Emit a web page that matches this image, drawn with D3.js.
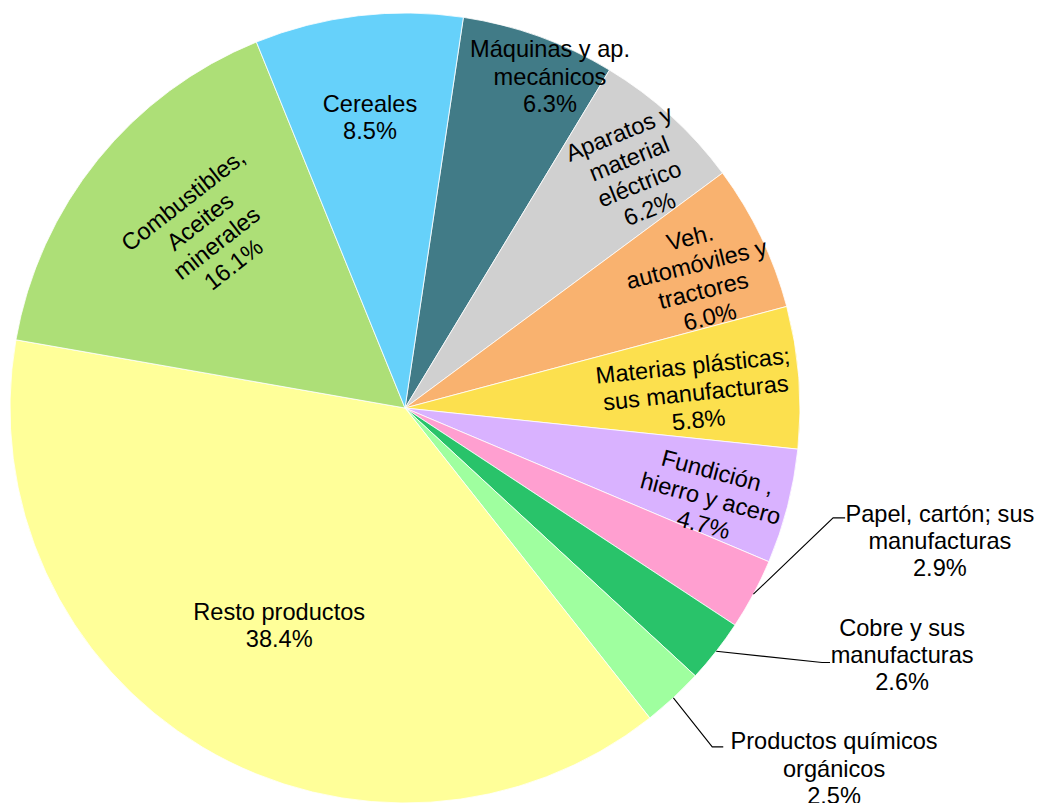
<!DOCTYPE html>
<html><head><meta charset="utf-8">
<script src="https://cdn.jsdelivr.net/npm/d3@7"></script>
<style>body{margin:0;background:#fff}</style></head>
<body>
<svg id="chart" width="1046" height="803"></svg>
<script>
// ---- data ----
const categories = [
  "Máquinas y ap. mecánicos",
  "Aparatos y material eléctrico",
  "Veh. automóviles y tractores",
  "Materias plásticas; sus manufacturas",
  "Fundición , hierro y acero",
  "Papel, cartón; sus manufacturas",
  "Cobre y sus manufacturas",
  "Productos químicos orgánicos",
  "Resto productos",
  "Combustibles, Aceites minerales",
  "Cereales"
];
const values = [6.3, 6.2, 6.0, 5.8, 4.7, 2.9, 2.6, 2.5, 38.4, 16.1, 8.5];
const labelLines = [
  ["Máquinas y ap.", "mecánicos"],
  ["Aparatos y", "material", "eléctrico"],
  ["Veh.", "automóviles y", "tractores"],
  ["Materias plásticas;", "sus manufacturas"],
  ["Fundición ,", "hierro y acero"],
  ["Papel, cartón; sus", "manufacturas"],
  ["Cobre y sus", "manufacturas"],
  ["Productos químicos", "orgánicos"],
  ["Resto productos"],
  ["Combustibles,", "Aceites", "minerales"],
  ["Cereales"]
];

// ---- style ----
const colors = ["#417B87", "#D0D0D0", "#F9B26F", "#FCE04E", "#D9B2FF", "#FF9FD0",
                "#29C36A", "#9FFF9F", "#FFFF99", "#ADDF77", "#66D1FA"];
// label placement: [angle (deg from top, clockwise), radius fraction, rotation deg]
const labelPlace = [
  [23.6, 0.917, 0], [44, 0.835, -22], [66, 0.817, -14], [86.9, 0.737, -6],
  [106.4, 0.807, 15], [103.9, 1.395, 0], [116.4, 1.405, 0], [130, 1.418, 0],
  [210.1, 0.635, 0], [-48.2, 0.669, -38], [-6.85, 0.743, 0]
];
// leader lines for outside labels: index -> [elbow angle, elbow radius frac, tail px]
const leaders = {5: [104.4, 1.119, 12], 6: [121.4, 1.237, 8], 7: [137.8, 1.158, 11]};

const W = 1046, H = 803, cx = 405, cy = 408, R = 395;
const fs = 23.6, lh = 27.2;
const svg = d3.select("#chart");
const g = svg.append("g").attr("transform", `translate(${cx},${cy})`);

const start = 8.5 * Math.PI / 180;
const pie = d3.pie().sort(null).value(d => d).startAngle(start).endAngle(start + 2 * Math.PI);
const arcs = pie(values);
const arc = d3.arc().innerRadius(0).outerRadius(R);

g.selectAll("path.slice").data(arcs).join("path")
  .attr("class", "slice")
  .attr("d", arc)
  .attr("fill", (d, i) => colors[i])
  .attr("stroke", "#ffffff")
  .attr("stroke-width", 0.8)
  .attr("stroke-linejoin", "round");

const polar = (deg, r) => {
  const a = deg * Math.PI / 180;
  return [r * Math.sin(a), -r * Math.cos(a)];
};

// leader lines
Object.keys(leaders).forEach(k => {
  const i = +k;
  const d = arcs[i];
  const mid = (d.startAngle + d.endAngle) / 2 * 180 / Math.PI;
  const p0 = polar(mid, R);
  const [ea, er, tail] = leaders[i];
  const p1 = polar(ea, er * R);
  const p2 = [p1[0] + tail, p1[1]];
  g.append("path")
    .attr("d", d3.line()([p0, p1, p2]))
    .attr("fill", "none")
    .attr("stroke", "#000")
    .attr("stroke-width", 1.1);
});

// labels
arcs.forEach((d, i) => {
  const [ang, rf, rot] = labelPlace[i];
  const [x, y] = polar(ang, rf * R);
  const lines = labelLines[i].concat([values[i].toFixed(1) + "%"]);
  const n = lines.length;
  const t = g.append("text")
    .attr("transform", `translate(${x},${y}) rotate(${rot})`)
    .attr("text-anchor", "middle")
    .attr("font-family", "Liberation Sans, Arial, sans-serif")
    .attr("font-size", fs)
    .attr("fill", "#000");
  lines.forEach((ln, j) => {
    t.append("tspan")
      .attr("x", 0)
      .attr("y", (j - (n - 1) / 2) * lh + fs * 0.36)
      .text(ln);
  });
});
</script>
</body></html>
